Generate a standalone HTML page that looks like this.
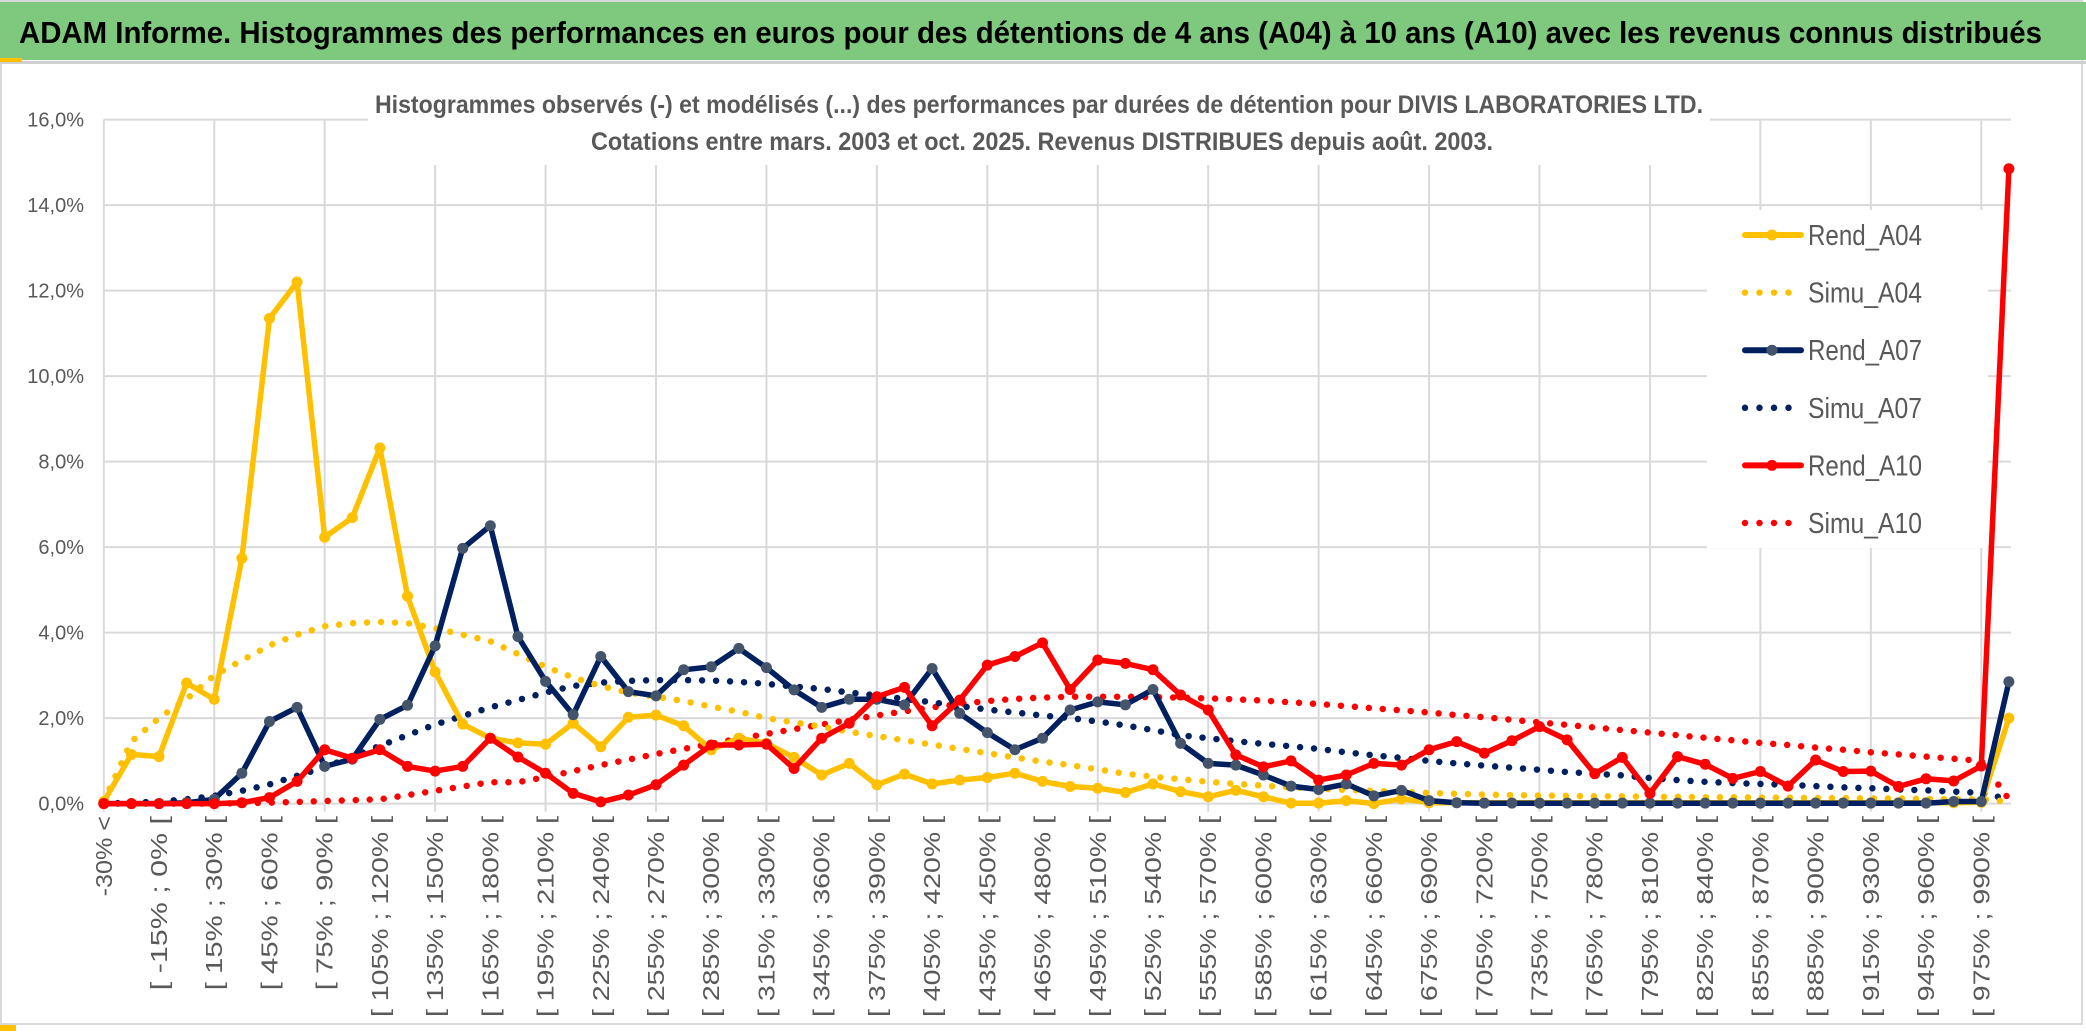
<!DOCTYPE html>
<html><head><meta charset="utf-8">
<style>
html,body{margin:0;padding:0;background:#fff;}
svg{display:block;font-family:"Liberation Sans",sans-serif;}
</style></head>
<body>
<svg id="chart" width="2086" height="1033" viewBox="0 0 2086 1033" xmlns="http://www.w3.org/2000/svg">
  <rect x="0" y="0" width="2086" height="1033" fill="#fff"/>
  <rect x="1" y="1" width="2081" height="1023" fill="none" stroke="#d9d9d9" stroke-width="2"/>
  <rect x="0" y="2" width="2086" height="58" fill="#7ec97e"/>
  <rect x="0" y="61" width="2086" height="3" fill="#d0d0d0"/>
  <rect x="0" y="58" width="22" height="4" fill="#ffc000"/>
  <rect x="0" y="1025" width="16" height="6" fill="#ffc000"/>
  <text x="19" y="43" font-size="31" font-weight="bold" fill="#000" textLength="2023" lengthAdjust="spacingAndGlyphs">ADAM Informe. Histogrammes des performances en euros pour des détentions de 4 ans (A04) à 10 ans (A10) avec les revenus connus distribués</text>
  <g id="grid"></g>
  <rect x="368" y="80" width="1342" height="85" fill="#fff"/>
  <text x="375" y="113" font-size="25" font-weight="bold" fill="#595959" textLength="1328" lengthAdjust="spacingAndGlyphs">Histogrammes observés (-) et modélisés (...) des performances par durées de détention pour DIVIS LABORATORIES LTD.</text>
  <text x="591" y="150" font-size="25" font-weight="bold" fill="#595959" textLength="902" lengthAdjust="spacingAndGlyphs">Cotations entre mars. 2003 et oct. 2025. Revenus DISTRIBUES depuis août. 2003.</text>
  <rect x="1707" y="210" width="281" height="338" fill="#fff"/>
  <g id="axes"></g>
  <g id="series"></g>
  <g id="legend"></g>
</svg>
<script>
const rendA04 = [0.05,1.15,1.1,2.82,2.44,5.74,11.35,12.2,6.23,6.69,8.32,4.85,3.08,1.86,1.53,1.42,1.39,1.88,1.33,2.02,2.07,1.82,1.26,1.53,1.41,1.08,0.67,0.94,0.44,0.69,0.46,0.55,0.61,0.71,0.52,0.4,0.36,0.26,0.46,0.28,0.16,0.31,0.16,0.01,0.01,0.07,0.0,0.11,0.02,0.02,0.02,0.02,0.02,0.02,0.02,0.02,0.02,0.02,0.02,0.02,0.02,0.02,0.02,0.02,0.02,0.02,0.02,0.02,0.03,2.0];
const simuA04 = [0.05,1.45,2.0,2.45,3.0,3.35,3.7,3.95,4.15,4.22,4.25,4.22,4.1,3.95,3.8,3.5,3.2,2.95,2.75,2.6,2.5,2.4,2.27,2.15,2.0,1.9,1.8,1.68,1.58,1.48,1.38,1.28,1.18,1.08,0.98,0.9,0.8,0.7,0.63,0.57,0.51,0.46,0.42,0.38,0.35,0.32,0.3,0.27,0.25,0.23,0.21,0.2,0.19,0.18,0.17,0.17,0.16,0.16,0.15,0.15,0.14,0.14,0.13,0.13,0.12,0.12,0.11,0.1,0.1,0.05];
const rendA07 = [0,0,0,0.02,0.1,0.71,1.92,2.25,0.87,1.04,1.97,2.3,3.69,5.97,6.5,3.91,2.86,2.08,3.44,2.62,2.52,3.13,3.2,3.63,3.18,2.66,2.25,2.44,2.44,2.31,3.16,2.11,1.66,1.26,1.53,2.19,2.38,2.31,2.67,1.41,0.94,0.9,0.67,0.41,0.33,0.46,0.18,0.31,0.07,0.02,0.01,0.01,0.01,0.01,0.01,0.01,0.01,0.01,0.01,0.01,0.01,0.01,0.01,0.01,0.01,0.01,0.01,0.05,0.05,2.85];
const simuA07 = [0,0.02,0.05,0.1,0.18,0.3,0.45,0.65,0.85,1.1,1.35,1.6,1.85,2.05,2.25,2.42,2.6,2.75,2.83,2.87,2.89,2.89,2.88,2.85,2.8,2.74,2.68,2.6,2.53,2.45,2.37,2.28,2.2,2.13,2.06,2.0,1.92,1.83,1.72,1.6,1.53,1.46,1.4,1.34,1.28,1.2,1.13,1.07,1.0,0.94,0.89,0.84,0.79,0.74,0.7,0.66,0.6,0.55,0.51,0.48,0.46,0.44,0.41,0.38,0.36,0.33,0.31,0.28,0.25,0.1];
const rendA10 = [0,0,0,0,0,0.02,0.14,0.52,1.26,1.06,1.26,0.87,0.76,0.87,1.53,1.09,0.71,0.24,0.04,0.2,0.44,0.9,1.37,1.37,1.39,0.82,1.53,1.88,2.5,2.72,1.82,2.42,3.24,3.44,3.76,2.67,3.36,3.28,3.13,2.54,2.19,1.14,0.86,1.0,0.55,0.67,0.94,0.9,1.26,1.45,1.18,1.47,1.8,1.49,0.7,1.08,0.24,1.1,0.92,0.59,0.75,0.41,1.02,0.75,0.76,0.4,0.58,0.53,0.88,14.85];
const simuA10 = [0,0,0,0,0,0.01,0.02,0.04,0.06,0.08,0.1,0.2,0.3,0.4,0.5,0.5,0.62,0.76,0.9,1.03,1.16,1.28,1.4,1.52,1.63,1.74,1.85,1.96,2.06,2.16,2.25,2.33,2.4,2.45,2.48,2.5,2.5,2.5,2.49,2.48,2.46,2.44,2.41,2.37,2.33,2.28,2.23,2.18,2.13,2.07,2.02,1.96,1.9,1.84,1.78,1.72,1.66,1.6,1.54,1.48,1.42,1.37,1.31,1.26,1.2,1.15,1.1,1.05,1.0,0.1];
const yTicks = [0,2,4,6,8,10,12,14,16];
const yTickLabels = ["0,0%","2,0%","4,0%","6,0%","8,0%","10,0%","12,0%","14,0%","16,0%"];
const binStarts = [-30,-30,-15,0,15,30,45,60,75,90,105,120,135,150,165,180,195,210,225,240,255,270,285,300,315,330,345,360,375,390,405,420,435,450,465,480,495,510,525,540,555,570,585,600,615,630,645,660,675,690,705,720,735,750,765,780,795,810,825,840,855,870,885,900,915,930,945,960,975,990];

const NS = "http://www.w3.org/2000/svg";
const X0 = 103.8, XSTEP = 27.61, Y0 = 803.6, YPER = 42.75, XRIGHT = 2011;
function xScale(i){ return X0 + XSTEP*i; }
function yScale(v){ return Y0 - YPER*v; }
function mk(tag, parent){ const e=document.createElementNS(NS,tag); parent.appendChild(e); return e; }

const grid = document.getElementById('grid');
yTicks.forEach(function(t){
  const l = mk('line', grid);
  
  
  l.setAttribute('x1',X0); l.setAttribute('x2',XRIGHT);
  l.setAttribute('y1',yScale(t)); l.setAttribute('y2',yScale(t));
  l.setAttribute('stroke','#d9d9d9'); l.setAttribute('stroke-width','2');
});
for (let i=0;i<binStarts.length;i+=4){
  const l = mk('line', grid);
  
  
  l.setAttribute('x1',xScale(i)); l.setAttribute('x2',xScale(i));
  l.setAttribute('y1',yScale(16)); l.setAttribute('y2',Y0+8);
  l.setAttribute('stroke','#d9d9d9'); l.setAttribute('stroke-width','2');
}

const axes = document.getElementById('axes');
yTicks.forEach(function(t,k){
  const tx = mk('text', axes);
  
  
  tx.setAttribute('x',84); tx.setAttribute('y',yScale(t)+7);
  tx.setAttribute('text-anchor','end'); tx.setAttribute('font-size','20');
  tx.setAttribute('fill','#595959');
  tx.textContent = yTickLabels[k];
});
binStarts.forEach(function(b,i){
  if (i%2!==0) return;
  let label;
  if (i===0) label = "-30% <";
  else label = "[ " + b + "% ; " + (b+15) + "% [";
  const tx = mk('text', axes);
  
  
  const x = xScale(i), y = 816;
  tx.setAttribute('x',x); tx.setAttribute('y',y);
  tx.setAttribute('transform','rotate(-90 '+x+' '+y+')');
  tx.setAttribute('text-anchor','end'); tx.setAttribute('dominant-baseline','central');
  tx.setAttribute('font-size','23'); tx.setAttribute('fill','#595959');
  tx.setAttribute('textLength', (label.length*13.4).toFixed(1));
  tx.setAttribute('lengthAdjust','spacingAndGlyphs');
  tx.textContent = label;
});

const series = document.getElementById('series');
function pts(arr){ return arr.map(function(v,i){ return xScale(i).toFixed(1)+','+yScale(v).toFixed(1); }).join(' '); }
function dotted(arr,color,name){
  const p = mk('polyline', series);
  
  
  p.setAttribute('points',pts(arr)); p.setAttribute('fill','none');
  p.setAttribute('stroke',color); p.setAttribute('stroke-width','6.5');
  p.setAttribute('stroke-linecap','round'); p.setAttribute('stroke-dasharray','0 14');
}
function solid(arr,color,marker,name){
  const g = mk('g', series);
  
  
  const p = mk('polyline', g);
  
  
  p.setAttribute('points',pts(arr)); p.setAttribute('fill','none');
  p.setAttribute('stroke',color); p.setAttribute('stroke-width','5.5');
  p.setAttribute('stroke-linejoin','round');
  arr.forEach(function(v,i){
    const c = mk('circle', g);
    
    
    c.setAttribute('cx',xScale(i)); c.setAttribute('cy',yScale(v));
    c.setAttribute('r','5.5'); c.setAttribute('fill',marker);
  });
}
dotted(simuA10,'#ff0000','simu-a10-line');
dotted(simuA07,'#002060','simu-a07-line');
dotted(simuA04,'#ffc000','simu-a04-line');
solid(rendA04,'#ffc000','#ffc000','rend-a04-series');
solid(rendA07,'#002060','#44546a','rend-a07-series');
solid(rendA10,'#ff0000','#ff0000','rend-a10-series');

const legend = document.getElementById('legend');
const legNames = ["Rend_A04","Simu_A04","Rend_A07","Simu_A07","Rend_A10","Simu_A10"];
const legColors = ["#ffc000","#ffc000","#002060","#002060","#ff0000","#ff0000"];
const legMarkers = ["#ffc000",null,"#44546a",null,"#ff0000",null];
legNames.forEach(function(n,k){
  const y = 235 + 57.6*k;
  const g = mk('g', legend);
  
  
  const l = mk('line', g);
  
  
  l.setAttribute('x1',1745); l.setAttribute('x2',1801); l.setAttribute('y1',y); l.setAttribute('y2',y);
  l.setAttribute('stroke',legColors[k]); l.setAttribute('stroke-linecap','round');
  if (legMarkers[k]){
    l.setAttribute('stroke-width','6');
    const c = mk('circle', g);
    
    
    c.setAttribute('cx',1772); c.setAttribute('cy',y); c.setAttribute('r','5.5');
    c.setAttribute('fill',legMarkers[k]);
  } else {
    l.setAttribute('stroke-width','6.5'); l.setAttribute('stroke-dasharray','0 14.5');
  }
  const t = mk('text', g);
  
  
  t.setAttribute('x',1808); t.setAttribute('y',y+10);
  t.setAttribute('font-size','29'); t.setAttribute('fill','#595959');
  t.setAttribute('textLength','114'); t.setAttribute('lengthAdjust','spacingAndGlyphs');
  t.textContent = n;
});
</script>
</body></html>
